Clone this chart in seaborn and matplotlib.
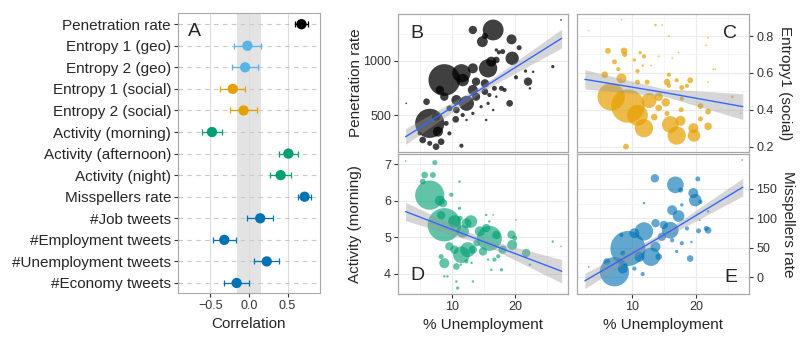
import numpy as np
import pandas as pd
import matplotlib.pyplot as plt
import seaborn as sns

# ---- panel A: correlations with unemployment ----
labels = ["Penetration rate", "Entropy 1 (geo)", "Entropy 2 (geo)", "Entropy 1 (social)",
          "Entropy 2 (social)", "Activity (morning)", "Activity (afternoon)", "Activity (night)",
          "Misspellers rate", "#Job tweets", "#Employment tweets", "#Unemployment tweets",
          "#Economy tweets"]
corr = [0.68, -0.02, -0.05, -0.21, -0.07, -0.48, 0.51, 0.41, 0.72, 0.145, -0.32, 0.23, -0.16]
err = [0.08, 0.17, 0.17, 0.16, 0.17, 0.13, 0.125, 0.14, 0.08, 0.17, 0.15, 0.16, 0.165]
group = ["pen", "geo", "geo", "social", "social", "act", "act", "act",
         "misp", "misp", "misp", "misp", "misp"]
band = [-0.16, 0.16]

colors = {"pen": "#000000", "geo": "#56B4E9", "social": "#E69F00",
          "act": "#009E73", "misp": "#0072B2"}

# ---- panel B: penetration rate ----
b_x = [16.5, 13.3, 14.8, 15.2, 19.4, 20.6, 19.5, 18.0, 17.4, 15.7, 16.2, 17.0, 13.3, 11.5,
       8.8, 11.7, 13.8, 15.2, 16.7, 17.8, 18.3, 20.1, 21.6, 22.0, 25.9, 27.2, 17.0, 22.8,
       22.3, 8.1, 8.8, 10.7, 12.3, 13.8, 13.3, 15.2, 15.9, 19.1, 15.7, 17.0, 10.7, 9.6,
       6.0, 2.8, 7.5, 6.5, 7.8, 9.1, 10.6, 11.7, 13.3, 12.3, 5.4, 6.5, 7.5, 8.3, 11.5,
       4.9, 9.6, 15.4, 14.6, 16.5]
b_y = [1287, 1287, 1179, 1232, 1200, 1123, 1025, 1087, 1080, 932, 994, 1009, 932, 886,
       824, 824, 809, 793, 747, 747, 732, 849, 907, 809, 948, 1380, 1102, 900,
       747, 732, 670, 639, 608, 670, 732, 716, 685, 608, 608, 670, 546, 562,
       623, 608, 485, 423, 346, 423, 460, 500, 515, 454, 269, 238, 207, 253, 216,
       330, 330, 454, 577, 546]
b_r = [25, 10, 13, 7, 12, 6, 16, 6, 5, 22, 12, 8, 12, 22,
       38, 15, 10, 10, 6, 6, 5, 5, 4, 10, 4, 2, 4, 3,
       3, 10, 10, 12, 18, 10, 12, 8, 5, 8, 4, 3, 8, 7,
       8, 2, 10, 35, 12, 6, 8, 5, 4, 3, 8, 6, 8, 8, 5,
       5, 5, 3, 4, 3]

# ---- panel C: entropy 1 (social) ----
c_x = [8.4, 3.3, 13.7, 14.7, 15.8, 21.9, 21.6, 6.3, 8.8, 8.9, 7.3, 11.3, 11.9, 10.4,
       11.7, 13.0, 14.2, 16.3, 17.3, 7.9, 5.8, 8.4, 10.9, 15.8, 17.0, 19.1, 15.5, 22.7,
       23.0, 21.9, 10.9, 12.4, 17.8, 18.6, 6.8, 9.4, 10.9, 12.7, 14.2, 15.3, 14.2, 11.9,
       16.0, 17.0, 17.6, 19.6, 19.7, 21.9, 20.7, 21.9, 20.7, 17.7, 9.1, 25.7, 27.0, 15.5,
       13.5, 17.8, 15.8]
c_y = [0.89, 0.83, 0.86, 0.86, 0.80, 0.79, 0.75, 0.72, 0.72, 0.70, 0.66, 0.71, 0.69, 0.67,
       0.64, 0.64, 0.69, 0.68, 0.71, 0.62, 0.59, 0.57, 0.61, 0.59, 0.56, 0.56, 0.55, 0.62,
       0.62, 0.55, 0.55, 0.55, 0.52, 0.53, 0.47, 0.42, 0.37, 0.45, 0.47, 0.44, 0.41, 0.30,
       0.32, 0.26, 0.34, 0.30, 0.26, 0.31, 0.42, 0.39, 0.35, 0.40, 0.20, 0.47, 0.38, 0.38,
       0.36, 0.46, 0.53]
c_r = [1.5, 1.5, 3, 2, 2, 2, 2, 7, 8, 6, 6, 4, 5, 4,
       3, 2, 2, 2, 2, 5, 8, 12, 5, 5, 5, 7, 8, 2,
       2, 2, 6, 6, 6, 5, 33, 40, 25, 18, 10, 10, 8, 22,
       20, 22, 12, 12, 15, 9, 7, 7, 6, 6, 7, 3, 2, 6,
       8, 5, 5]

# ---- panel D: activity (morning) ----
d_x = [2.7, 7.3, 5.7, 7.0, 5.4, 6.5, 8.1, 8.6, 9.9, 11.2, 11.3, 8.3, 8.8, 10.4,
       12.3, 13.0, 11.7, 14.4, 15.4, 15.9, 17.0, 15.9, 19.4, 19.9, 19.5, 21.7, 12.5, 11.5,
       10.4, 9.6, 8.8, 8.3, 10.7, 12.3, 13.3, 14.9, 13.9, 18.0, 17.3, 16.7, 15.7, 17.8,
       16.2, 15.4, 16.5, 20.1, 25.9, 27.2, 8.8, 9.3, 10.9, 10.7, 13.3, 22.3, 11.4, 13.1,
       11.2]
d_y = [7.08, 7.04, 6.70, 6.70, 6.52, 6.15, 6.00, 5.93, 6.16, 5.79, 5.52, 5.60, 5.34, 5.43,
       5.38, 5.43, 5.16, 5.16, 5.25, 4.97, 5.06, 5.43, 5.07, 4.98, 4.79, 4.57, 4.66, 4.52,
       4.66, 4.75, 4.29, 4.47, 4.20, 4.34, 4.66, 4.61, 4.84, 4.66, 4.48, 4.39, 4.39, 4.11,
       4.11, 5.61, 5.61, 5.47, 4.88, 4.75, 3.93, 3.93, 3.61, 3.79, 3.79, 4.25, 4.25, 4.30,
       6.52]
d_r = [2, 6, 8, 7, 7, 35, 12, 10, 5, 4, 6, 10, 40, 15,
       12, 15, 15, 12, 10, 30, 10, 3, 10, 6, 12, 10, 18, 20,
       10, 10, 12, 6, 8, 5, 10, 10, 8, 10, 5, 5, 3, 4,
       3, 3, 2, 2, 3, 2, 3, 3, 4, 3, 3, 3, 3, 3,
       3]

# ---- panel E: misspellers rate ----
e_x = [27.2, 13.6, 16.8, 17.6, 20.3, 19.6, 19.9, 20.7, 16.3, 17.3, 17.8, 11.9, 21.9, 21.9,
       21.6, 20.4, 13.7, 15.0, 11.9, 10.4, 16.0, 14.7, 18.6, 19.3, 17.8, 16.3, 9.4, 13.0,
       13.7, 14.2, 11.2, 19.1, 7.3, 8.6, 6.1, 8.4, 11.7, 10.4, 3.3, 8.6, 17.0, 20.6]
e_y = [199, 168, 157, 148, 167, 143, 131, 128, 114, 104, 123, 126, 112, 80,
       83, 79, 92, 89, 78, 75, 80, 69, 83, 60, 58, 63, 49, 35,
       52, 35, 35, 32, 9.6, 15, 27, 72, 5.7, 15, 18, 41, 44, 97]
e_r = [2, 10, 20, 6, 6, 12, 15, 5, 12, 14, 4, 3, 3, 8,
       6, 6, 10, 10, 22, 12, 20, 10, 5, 3, 5, 5, 42, 22,
       12, 8, 12, 8, 35, 12, 8, 5, 5, 5, 2, 6, 4, 2]

# ---- fitted lines and confidence bands ----
fit_x = [2.7, 15.0, 27.3]
b_fit = [299, 756, 1210]
b_lo = [228, 728, 1120]
b_hi = [375, 784, 1295]
c_fit = [0.565, 0.494, 0.417]
c_lo = [0.513, 0.474, 0.347]
c_hi = [0.617, 0.514, 0.487]
d_fit = [5.70, 4.88, 4.07]
d_lo = [5.45, 4.80, 3.75]
d_hi = [5.95, 4.96, 4.39]
e_fit = [-5.7, 72, 153]
e_lo = [-19, 67, 138]
e_hi = [7, 77, 168]

sns.set_theme(style="white")
plt.rcParams["font.family"] = ["Liberation Sans", "DejaVu Sans"]

fig = plt.figure(figsize=(8, 3.41), dpi=100)
border = "#a8a8a8"
grid_c = "#ebebeb"
tick_fs = 9
title_fs = 11

# ---------------- panel A ----------------
axA = fig.add_axes([0.2225, 0.141, 0.1775, 0.821])
pos = np.arange(len(labels))
axA.axvspan(band[0], band[1], color="#e3e3e3", zorder=0, lw=0)
for xv in [-0.5, 0.0, 0.5]:
    axA.axvline(xv, color="#dcdcdc", lw=0.8, zorder=0.5)
for p in pos:
    axA.axhline(p, color="#c8c8c8", lw=0.8, ls=(0, (4, 4)), zorder=0.6)
for p, c, e, g in zip(pos, corr, err, group):
    axA.errorbar(c, p, xerr=e, color=colors[g], capsize=2.5, lw=0.9, capthick=0.9, zorder=2)
dfa = pd.DataFrame({"corr": corr, "pos": pos, "group": group})
sns.scatterplot(data=dfa, x="corr", y="pos", hue="group", palette=colors, s=55,
                linewidth=0, legend=False, ax=axA, zorder=3)
axA.set_xlim(-0.92, 0.92)
axA.set_ylim(len(labels) - 0.54, -0.52)
axA.set_yticks(pos)
axA.set_yticklabels(labels, fontsize=11)
axA.set_xticks([-0.5, 0.0, 0.5])
axA.set_xticklabels(["\u22120.5", "0.0", "0.5"], fontsize=tick_fs, color="#333333")
axA.set_xlabel("Correlation", fontsize=title_fs)
axA.set_ylabel("")
axA.tick_params(axis="both", length=3, width=0.8, color="#333333", direction="out",
                left=True, bottom=True, pad=2)
for s in axA.spines.values():
    s.set_color(border)
    s.set_linewidth(0.8)
axA.text(0.07, 0.935, "A", transform=axA.transAxes, fontsize=14, va="center", ha="left")


def bubble_panel(ax, x, y, r, color, alpha, fy, flo, fhi):
    df = pd.DataFrame({"x": x, "y": y, "area": (np.array(r) * 0.6) ** 2})
    sns.scatterplot(data=df, x="x", y="y", size="area",
                    sizes=(df["area"].min(), df["area"].max()),
                    color=color, alpha=alpha, linewidth=0, legend=False, ax=ax, zorder=2)
    ax.fill_between(fit_x, flo, fhi, color="#999999", alpha=0.4, lw=0, zorder=3)
    ax.plot(fit_x, fy, color="#3366FF", lw=1.0, zorder=4)
    ax.set_xlim(1.5, 28.3)
    ax.set_xticks([10, 20])
    ax.set_xticks([5, 15, 25], minor=True)
    ax.grid(True, which="major", color=grid_c, lw=0.8, zorder=0)
    ax.grid(True, which="minor", color="#f4f4f4", lw=0.6, zorder=0)
    ax.set_axisbelow(True)
    for s in ax.spines.values():
        s.set_color(border)
        s.set_linewidth(0.9)
    ax.tick_params(axis="both", which="major", length=3, width=0.8, color="#333333",
                   direction="out", labelsize=tick_fs, labelcolor="#333333", pad=2,
                   left=True, bottom=True)
    ax.tick_params(which="minor", length=0)
    ax.set_xlabel("")
    ax.set_ylabel("")


# ---------------- panel B ----------------
axB = fig.add_axes([0.4975, 0.554, 0.2125, 0.405])
bubble_panel(axB, b_x, b_y, b_r, "#000000", 0.75, b_fit, b_lo, b_hi)
axB.set_ylim(157, 1435)
axB.set_yticks([500, 1000])
axB.set_yticks([250, 750, 1250], minor=True)
axB.tick_params(axis="x", labelbottom=False, length=0)
axB.set_ylabel("Penetration rate", fontsize=title_fs, labelpad=0)
axB.text(0.07, 0.86, "B", transform=axB.transAxes, fontsize=14, va="center")

# ---------------- panel C ----------------
axC = fig.add_axes([0.7215, 0.554, 0.215, 0.405])
bubble_panel(axC, c_x, c_y, c_r, "#E69F00", 0.7, c_fit, c_lo, c_hi)
axC.set_ylim(0.17, 0.92)
axC.set_yticks([0.2, 0.4, 0.6, 0.8])
axC.set_yticks([0.3, 0.5, 0.7, 0.9], minor=True)
axC.yaxis.tick_right()
axC.yaxis.set_label_position("right")
axC.tick_params(axis="y", left=False, right=True)
axC.tick_params(axis="x", labelbottom=False, length=0)
axC.set_ylabel("Entropy1 (social)", fontsize=title_fs, rotation=270, labelpad=13)
axC.text(0.93, 0.86, "C", transform=axC.transAxes, fontsize=14, va="center", ha="right")

# ---------------- panel D ----------------
axD = fig.add_axes([0.4975, 0.138, 0.2125, 0.41])
bubble_panel(axD, d_x, d_y, d_r, "#009E73", 0.62, d_fit, d_lo, d_hi)
axD.set_ylim(3.45, 7.27)
axD.set_yticks([4, 5, 6, 7])
axD.set_yticks([3.5, 4.5, 5.5, 6.5], minor=True)
axD.set_ylabel("Activity (morning)", fontsize=title_fs, labelpad=16)
axD.set_xlabel("% Unemployment", fontsize=title_fs)
axD.text(0.07, 0.13, "D", transform=axD.transAxes, fontsize=14, va="center")

# ---------------- panel E ----------------
axE = fig.add_axes([0.7215, 0.138, 0.215, 0.41])
bubble_panel(axE, e_x, e_y, e_r, "#0072B2", 0.62, e_fit, e_lo, e_hi)
axE.set_ylim(-28, 209)
axE.set_yticks([0, 50, 100, 150])
axE.set_yticks([25, 75, 125, 175], minor=True)
axE.yaxis.tick_right()
axE.yaxis.set_label_position("right")
axE.tick_params(axis="y", left=False, right=True)
axE.set_ylabel("Misspellers rate", fontsize=title_fs, rotation=270, labelpad=13)
axE.set_xlabel("% Unemployment", fontsize=title_fs)
axE.text(0.93, 0.12, "E", transform=axE.transAxes, fontsize=14, va="center", ha="right")

fig.savefig("out.png", dpi=100)
